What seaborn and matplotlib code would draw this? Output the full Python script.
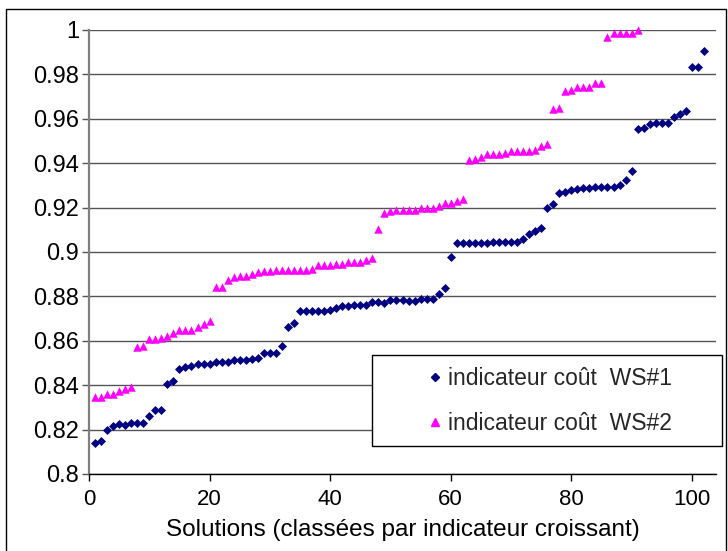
import matplotlib.pyplot as plt
import numpy as np
import pandas as pd
import seaborn as sns
from matplotlib.lines import Line2D
from matplotlib.patches import Rectangle
from matplotlib.ticker import FuncFormatter

# valeurs (solutions classees par indicateur croissant)
ws1 = [
    0.8138, 0.8150, 0.8200, 0.8216, 0.8225, 0.8222, 0.8230, 0.8230, 0.8230, 0.8261,
    0.8288, 0.8288, 0.8404, 0.8419, 0.8474, 0.8483, 0.8488, 0.8495, 0.8495, 0.8495,
    0.8506, 0.8506, 0.8506, 0.8514, 0.8514, 0.8514, 0.8516, 0.8521, 0.8546, 0.8546,
    0.8546, 0.8577, 0.8664, 0.8680, 0.8734, 0.8734, 0.8734, 0.8734, 0.8734, 0.8737,
    0.8748, 0.8757, 0.8757, 0.8760, 0.8763, 0.8760, 0.8773, 0.8773, 0.8770, 0.8784,
    0.8784, 0.8784, 0.8781, 0.8781, 0.8790, 0.8790, 0.8790, 0.8812, 0.8838, 0.8978,
    0.9042, 0.9042, 0.9042, 0.9040, 0.9040, 0.9042, 0.9044, 0.9044, 0.9046, 0.9046,
    0.9046, 0.9057, 0.9080, 0.9095, 0.9107, 0.9197, 0.9215, 0.9267, 0.9270, 0.9278,
    0.9285, 0.9290, 0.9290, 0.9293, 0.9293, 0.9293, 0.9293, 0.9300, 0.9324, 0.9364,
    0.9553, 0.9557, 0.9577, 0.9580, 0.9580, 0.9580, 0.9608, 0.9623, 0.9635, 0.9835,
    0.9835, 0.9907,
]
ws2 = [
    0.8348, 0.8348, 0.8359, 0.8362, 0.8374, 0.8383, 0.8390, 0.8573, 0.8577, 0.8608,
    0.8610, 0.8613, 0.8623, 0.8634, 0.8647, 0.8647, 0.8647, 0.8661, 0.8674, 0.8690,
    0.8842, 0.8842, 0.8876, 0.8888, 0.8890, 0.8890, 0.8901, 0.8910, 0.8916, 0.8916,
    0.8920, 0.8920, 0.8920, 0.8920, 0.8920, 0.8920, 0.8922, 0.8941, 0.8941, 0.8941,
    0.8944, 0.8944, 0.8956, 0.8956, 0.8956, 0.8964, 0.8971, 0.9102, 0.9177, 0.9185,
    0.9190, 0.9190, 0.9190, 0.9190, 0.9197, 0.9200, 0.9200, 0.9207, 0.9219, 0.9220,
    0.9230, 0.9237, 0.9414, 0.9418, 0.9427, 0.9440, 0.9440, 0.9440, 0.9444, 0.9453,
    0.9453, 0.9453, 0.9453, 0.9459, 0.9477, 0.9486, 0.9643, 0.9650, 0.9727, 0.9730,
    0.9745, 0.9745, 0.9745, 0.9763, 0.9763, 0.9970, 0.9988, 0.9988, 0.9988, 0.9988,
    1.0000,
]
series = ["indicateur coût  WS#1", "indicateur coût  WS#2"]
colors = ["#000080", "#FF00FF"]
markers = ["D", "^"]
x_ticks = [0, 20, 40, 60, 80, 100]
y_ticks = [0.8, 0.82, 0.84, 0.86, 0.88, 0.9, 0.92, 0.94, 0.96, 0.98, 1.0]

df = pd.concat([
    pd.DataFrame({"rang": np.arange(1, len(ws1) + 1), "indicateur": ws1, "serie": series[0]}),
    pd.DataFrame({"rang": np.arange(1, len(ws2) + 1), "indicateur": ws2, "serie": series[1]}),
])

sns.set_theme(style="white")
plt.rcParams["font.family"] = ["Liberation Sans", "DejaVu Sans"]

fig = plt.figure(figsize=(7.28, 5.51), dpi=100)
ax = fig.add_axes([89 / 728, 1 - 474 / 551, 627 / 728, 444 / 551])

sizes = [21, 37]
for serie, col, mk, sz in zip(series, colors, markers, sizes):
    sns.scatterplot(data=df[df["serie"] == serie], x="rang", y="indicateur",
                    color=col, marker=mk, s=sz, linewidth=0, clip_on=False,
                    zorder=3, ax=ax, legend=False)

ax.set_xlim(0, 104)
ax.set_ylim(0.8, 1.0)
ax.set_xticks(x_ticks)
ax.set_yticks(y_ticks)
ax.yaxis.set_major_formatter(FuncFormatter(lambda v, p: f"{v:g}"))
ax.yaxis.grid(True, color="#555555", lw=1)
ax.xaxis.grid(False)
ax.spines["top"].set_visible(False)
ax.spines["right"].set_visible(False)
ax.spines["left"].set_color("#808080")
ax.spines["left"].set_linewidth(1.6)
ax.spines["bottom"].set_color("black")
ax.spines["bottom"].set_linewidth(1)
ax.tick_params(axis="x", bottom=True, direction="out", length=5, width=1,
               color="black", labelsize=16, pad=6, labelcolor="black")
ax.tick_params(axis="y", left=True, direction="out", length=5, width=1,
               color="#555555", labelsize=17, pad=2, labelcolor="black")
ax.set_ylabel("")
ax.set_xlabel("Solutions (classées par indicateur croissant)", fontsize=17.5,
              color="black", labelpad=6)

# cadre de la legende, a la maniere d'Excel
fig.add_artist(Rectangle((372 / 728, 1 - 446 / 551), 350 / 728, 91 / 551,
                         transform=fig.transFigure, facecolor="white",
                         edgecolor="black", lw=1, zorder=2))
handles = [
    Line2D([], [], marker="D", color=colors[0], ls="", markersize=4),
    Line2D([], [], marker="^", color=colors[1], ls="", markersize=5.5),
]
fig.legend(handles, series, loc="center left",
           bbox_to_anchor=(417 / 728, 1 - 401 / 551), frameon=False,
           fontsize=16.5, handlelength=0.6, handletextpad=0.24,
           labelspacing=1.0, borderpad=0)

# bordure exterieure du graphique
fig.add_artist(Rectangle((6 / 728, -0.01), 720 / 728, 1.01 - 9 / 551,
                         transform=fig.transFigure, fill=False,
                         edgecolor="black", lw=1))

fig.savefig("out.png", dpi=100)
